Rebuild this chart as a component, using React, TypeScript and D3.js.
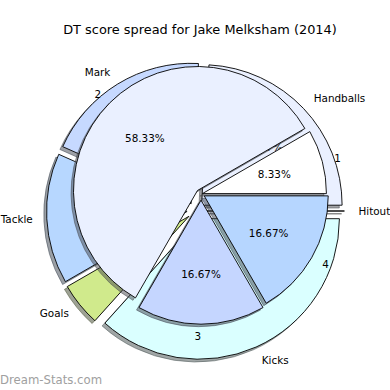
import React, { useEffect, useRef } from "react";
import * as d3 from "d3";

// outer ring: DT points by stat type
const outerLabels = ["Handballs", "Mark", "Tackle", "Goals", "Kicks", "Hitout"];
const outerValues = [29, 23, 18, 6, 44, 0];
// inner pie: points by quarter
const innerLabels = ["1", "2", "3", "4"];
const innerValues = [10, 70, 20, 20];

const outerColors = ["#eaf0ff", "#c6d9ff", "#b7d7ff", "#d0ea8c", "#daffff", "#bbbbbb"];
const innerColors = ["#ffffff", "#eaf0ff", "#c5d6ff", "#b6d6ff"];

const width = 390;
const height = 390;
const font = "DejaVu Sans, Verdana, sans-serif";

type PieOpts = {
  cx: number;
  cy: number;
  r: number;
  explode: number[]; // fraction of radius
  colors: string[];
  labels: string[];
  values: number[];
  pctShown: (i: number) => boolean;
};

function drawPie(g: any, o: PieOpts) {
  const pie = d3
    .pie<number>()
    .sort(null)
    .value((d) => d)
    .startAngle(Math.PI / 2)
    .endAngle(Math.PI / 2 - 2 * Math.PI);
  const slices = pie(o.values);
  const total = d3.sum(o.values);
  const arc = d3.arc<any>().innerRadius(0).outerRadius(o.r);

  const items = slices.map((s, i) => {
    const mid = (s.startAngle + s.endAngle) / 2;
    const ux = Math.sin(mid);
    const uy = -Math.cos(mid);
    const e = o.explode[i] * o.r;
    return { s, i, ux, uy, x: o.cx + e * ux, y: o.cy + e * uy };
  });

  const sh = 0.02 * o.r;
  const shade = (i: number) => {
    const c = d3.rgb(o.colors[i]);
    return `rgba(${c.r * 0.3},${c.g * 0.3},${c.b * 0.3},0.5)`;
  };

  // shadows first
  g.append("g")
    .selectAll("path")
    .data(items)
    .enter()
    .append("path")
    .attr("d", (d: any) => arc(d.s))
    .attr("transform", (d: any) => `translate(${d.x - sh}, ${d.y + sh})`)
    .attr("fill", (d: any) => shade(d.i))
    .attr("stroke", (d: any) => shade(d.i))
    .attr("stroke-width", 1);

  g.append("g")
    .selectAll("path")
    .data(items)
    .enter()
    .append("path")
    .attr("d", (d: any) => arc(d.s))
    .attr("transform", (d: any) => `translate(${d.x}, ${d.y})`)
    .attr("fill", (d: any) => o.colors[d.i])
    .attr("stroke", "#000")
    .attr("stroke-width", 0.9)
    .attr("stroke-linejoin", "round");

  // wedge labels
  g.append("g")
    .selectAll("text")
    .data(items)
    .enter()
    .append("text")
    .attr("x", (d: any) => d.x + 1.1 * o.r * d.ux)
    .attr("y", (d: any) => d.y + 1.1 * o.r * d.uy)
    .attr("dy", "0.35em")
    .attr("text-anchor", (d: any) => (d.ux > 0 ? "start" : "end"))
    .style("font-family", font)
    .style("font-size", "10.4px")
    .attr("fill", "#000")
    .text((d: any) => o.labels[d.i]);

  // percentages
  g.append("g")
    .selectAll("text")
    .data(items.filter((d) => o.pctShown(d.i)))
    .enter()
    .append("text")
    .attr("x", (d: any) => d.x + 0.6 * o.r * d.ux)
    .attr("y", (d: any) => d.y + 0.6 * o.r * d.uy)
    .attr("dy", "0.35em")
    .attr("text-anchor", "middle")
    .style("font-family", font)
    .style("font-size", "10.4px")
    .attr("fill", "#000")
    .text((d: any) => d3.format(".2f")((o.values[d.i] / total) * 100) + "%");
}

const App = () => {
  const ref = useRef<SVGSVGElement>(null);

  useEffect(() => {
    const svg = d3.select(ref.current);
    svg.selectAll("*").remove();

    svg.append("rect").attr("width", width).attr("height", height).attr("fill", "#fff");

    // outer ring (whole wedges, the inner pie covers the middle);
    // only the Handballs percentage peeks out between inner wedges
    drawPie(svg.append("g"), {
      cx: 195.5,
      cy: 211,
      r: 140.5,
      explode: [0.06, 0.06, 0.06, 0.06, 0.06, 0.06],
      colors: outerColors,
      labels: outerLabels,
      values: outerValues,
      pctShown: (i) => i === 0,
    });

    // inner pie on top
    drawPie(svg.append("g"), {
      cx: 201,
      cy: 194,
      r: 124,
      explode: [0.012, 0.04, 0.05, 0.03],
      colors: innerColors,
      labels: innerLabels,
      values: innerValues,
      pctShown: () => true,
    });

    // title
    svg.append("text")
      .attr("x", 200)
      .attr("y", 29.5)
      .attr("dy", "0.35em")
      .attr("text-anchor", "middle")
      .style("font-family", font)
      .style("font-size", "12.9px")
      .attr("fill", "#000")
      .text("DT score spread for Jake Melksham (2014)");

    // watermark
    svg.append("text")
      .attr("x", 0)
      .attr("y", 380)
      .attr("dy", "0.35em")
      .style("font-family", font)
      .style("font-size", "11.7px")
      .attr("fill", "#a0a0a0")
      .text("Dream-Stats.com");
  }, []);

  return (
    <svg
      ref={ref}
      width={width}
      height={height}
      style={{ position: "absolute", left: 0, top: 0, display: "block" }}
    />
  );
};

export default App;
